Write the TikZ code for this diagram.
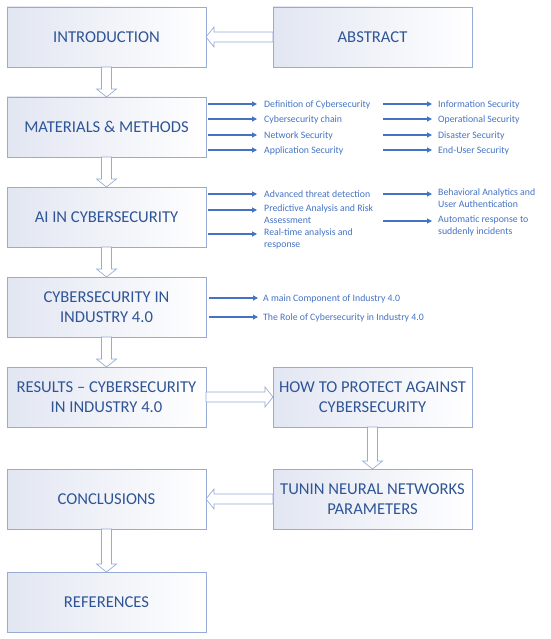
\documentclass[tikz,border=0pt]{standalone}
\usepackage{fontspec}
\setmainfont{Carlito}
\usetikzlibrary{positioning,calc,arrows.meta}
\definecolor{boxline}{RGB}{150,172,214}
\definecolor{boxshade}{RGB}{226,230,242}
\definecolor{boxtext}{RGB}{47,85,151}
\definecolor{sideblue}{RGB}{68,114,196}
\tikzset{
  section/.style = {draw=boxline, line width=0.8pt, left color=boxshade, right color=white,
                    minimum width=199pt, minimum height=60pt, inner sep=2pt, outer sep=0pt,
                    align=center, text=boxtext, font=\fontsize{16.6}{20}\selectfont},
  topic/.style   = {inner sep=0pt, anchor=north west, align=left, text=sideblue,
                    font=\fontsize{9.8}{12}\selectfont, execute at begin node=\strut},
  pointer/.style = {draw=sideblue, line width=1.1pt, -{Triangle[length=5pt,width=5pt]}},
  hollow/.style  = {draw=boxline, fill=white, line width=0.7pt,
                    to path={($(\tikztostart)!5pt!90:(\tikztotarget)$)
                      -- ($(\tikztotarget)!8pt!(\tikztostart)!5pt!90:(\tikztotarget)$)
                      -- ($(\tikztotarget)!8pt!(\tikztostart)!10pt!90:(\tikztotarget)$)
                      -- (\tikztotarget)
                      -- ($(\tikztotarget)!8pt!(\tikztostart)!10pt!-90:(\tikztotarget)$)
                      -- ($(\tikztotarget)!8pt!(\tikztostart)!5pt!-90:(\tikztotarget)$)
                      -- ($(\tikztostart)!5pt!-90:(\tikztotarget)$) -- cycle}}
}

\begin{document}
\begin{tikzpicture}
\useasboundingbox (0,0) rectangle (550pt,-639pt);

\node[section, anchor=north west] (intro) at (7pt,-7pt) {INTRODUCTION};
\node[section, right=67pt of intro] (abs) {ABSTRACT};
\node[section, below=30pt of intro] (mat) {MATERIALS \& METHODS};
\node[section, below=30pt of mat] (ai) {AI IN CYBERSECURITY};
\node[section, below=30pt of ai] (ind) {CYBERSECURITY IN\\INDUSTRY 4.0};
\node[section, below=30pt of ind] (res) {RESULTS -- CYBERSECURITY\\IN INDUSTRY 4.0};
\node[section, right=67pt of res] (how) {HOW TO PROTECT AGAINST\\CYBERSECURITY};
\node[section, below=42pt of how] (tun) {TUNIN NEURAL NETWORKS\\PARAMETERS};
\node[section, below=42pt of res] (con) {CONCLUSIONS};
\node[section, below=43pt of con] (refs) {REFERENCES};

% materials & methods
\node[topic] (d1) at ([xshift=58pt, yshift=-1.6pt]mat.north east) {Definition of Cybersecurity};
\node[topic] (d2) at ([xshift=58pt, yshift=-16.6pt]mat.north east) {Cybersecurity chain};
\node[topic] (d3) at ([xshift=58pt, yshift=-32.6pt]mat.north east) {Network Security};
\node[topic] (d4) at ([xshift=58pt, yshift=-47.6pt]mat.north east) {Application Security};
\node[topic] (s1) at ([xshift=232pt, yshift=-1.6pt]mat.north east) {Information Security};
\node[topic] (s2) at ([xshift=232pt, yshift=-16.6pt]mat.north east) {Operational Security};
\node[topic] (s3) at ([xshift=232pt, yshift=-32.6pt]mat.north east) {Disaster Security};
\node[topic] (s4) at ([xshift=232pt, yshift=-47.6pt]mat.north east) {End-User Security};

% ai in cybersecurity
\node[topic] (a1) at ([xshift=58pt, yshift=-1.6pt]ai.north east) {Advanced threat detection};
\node[topic] (a2) at ([xshift=58pt, yshift=-17.6pt]ai.north east) {Predictive Analysis and Risk\\Assessment};
\node[topic] (a3) at ([xshift=58pt, yshift=-41.6pt]ai.north east) {Real-time analysis and\\response};
\node[topic] (b1) at ([xshift=232pt, yshift=-1.6pt]ai.north east) {Behavioral Analytics and\\User Authentication};
\node[topic] (b2) at ([xshift=232pt, yshift=-28.6pt]ai.north east) {Automatic response to\\suddenly incidents};

% industry 4.0
\node[topic] (c1) at ([xshift=57pt, yshift=-15.6pt]ind.north east) {A main Component of Industry 4.0};
\node[topic] (c2) at ([xshift=57pt, yshift=-34.6pt]ind.north east) {The Role of Cybersecurity in Industry 4.0};

\draw[hollow] (abs.west) to (intro.east);
\draw[hollow] (intro.south) to (mat.north);
\draw[hollow] (mat.south) to (ai.north);
\draw[hollow] (ai.south) to (ind.north);
\draw[hollow] (ind.south) to (res.north);
\draw[hollow] (res.east) to (how.west);
\draw[hollow] (how.south) to (tun.north);
\draw[hollow] (tun.west) to (con.east);
\draw[hollow] (con.south) to (refs.north);

\draw[pointer] ($(mat.east |- d1.north west)+(2pt,-5.4pt)$) -- ($(d1.north west)+(-7pt,-5.4pt)$);
\draw[pointer] ($(mat.east |- d2.north west)+(2pt,-5.4pt)$) -- ($(d2.north west)+(-7pt,-5.4pt)$);
\draw[pointer] ($(mat.east |- d3.north west)+(2pt,-5.4pt)$) -- ($(d3.north west)+(-7pt,-5.4pt)$);
\draw[pointer] ($(mat.east |- d4.north west)+(2pt,-5.4pt)$) -- ($(d4.north west)+(-7pt,-5.4pt)$);
\draw[pointer] ($(s1.north west)+(-55pt,-5.4pt)$) -- ($(s1.north west)+(-6pt,-5.4pt)$);
\draw[pointer] ($(s2.north west)+(-55pt,-5.4pt)$) -- ($(s2.north west)+(-6pt,-5.4pt)$);
\draw[pointer] ($(s3.north west)+(-55pt,-5.4pt)$) -- ($(s3.north west)+(-6pt,-5.4pt)$);
\draw[pointer] ($(s4.north west)+(-55pt,-5.4pt)$) -- ($(s4.north west)+(-6pt,-5.4pt)$);

\draw[pointer] ($(ai.east |- a1.north west)+(2pt,-5.4pt)$) -- ($(a1.north west)+(-7pt,-5.4pt)$);
\draw[pointer] ($(ai.east |- a2.north west)+(2pt,-5.4pt)$) -- ($(a2.north west)+(-7pt,-5.4pt)$);
\draw[pointer] ($(ai.east |- a3.north west)+(2pt,-5.4pt)$) -- ($(a3.north west)+(-7pt,-5.4pt)$);
\draw[pointer] ($(b1.north west)+(-55pt,-5.4pt)$) -- ($(b1.north west)+(-6pt,-5.4pt)$);
\draw[pointer] ($(b2.north west)+(-55pt,-5.4pt)$) -- ($(b2.north west)+(-6pt,-5.4pt)$);

\draw[pointer] ($(ind.east |- c1.north west)+(3pt,-5.4pt)$) -- ($(c1.north west)+(-5pt,-5.4pt)$);
\draw[pointer] ($(ind.east |- c2.north west)+(3pt,-5.4pt)$) -- ($(c2.north west)+(-5pt,-5.4pt)$);

\end{tikzpicture}
\end{document}
